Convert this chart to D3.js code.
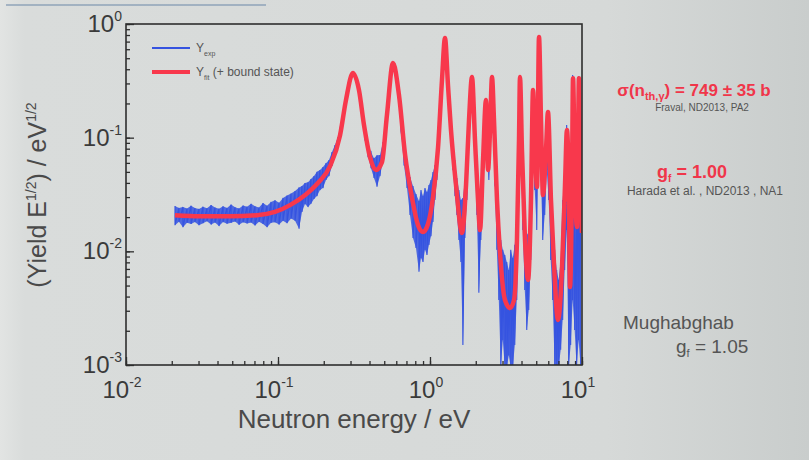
<!DOCTYPE html>
<html>
<head>
<meta charset="utf-8">
<script src="https://cdn.jsdelivr.net/npm/d3@7"></script>
<style>
  body { margin: 0; background: #d7dad9; }
  svg { display: block; font-family: 'Liberation Sans', Arial, sans-serif; }
</style>
</head>
<body>
<script>
// decades on both axes
const xMajor = [0.01, 0.1, 1, 10]
const xExp = ['-2', '-1', '0', '1']
const yMajor = [0.001, 0.01, 0.1, 1]
const yExp = ['-3', '-2', '-1', '0']

// fitted yield (red)
const fitE = [0.0210, 0.0307, 0.0483, 0.0728, 0.0955, 0.120, 0.151, 0.183, 0.220, 0.256,
  0.280, 0.311, 0.341, 0.368, 0.403, 0.441, 0.483, 0.521, 0.571, 0.625,
  0.686, 0.762, 0.834, 0.900, 0.970, 1.047, 1.129, 1.199, 1.255, 1.313,
  1.374, 1.483, 1.624, 1.726, 1.806, 1.889, 1.977, 2.070, 2.133, 2.233,
  2.335, 2.409, 2.483, 2.558, 2.636, 2.759, 2.889, 3.114, 3.359, 3.571,
  3.734, 3.851, 3.908, 4.027, 4.217, 4.416, 4.617, 4.764, 4.910, 5.059,
  5.214, 5.373, 5.537, 5.795, 5.973, 6.25, 6.546, 6.95, 7.38, 7.73,
  7.96, 8.21, 8.34, 8.59, 8.73, 8.99, 9.27, 9.41, 9.55, 9.70, 10.0]
const fitY = [0.0208, 0.0204, 0.0204, 0.0208, 0.0222, 0.0255, 0.0313, 0.0399, 0.0562, 0.105,
  0.214, 0.370, 0.262, 0.129, 0.0674, 0.0519, 0.0609, 0.158, 0.453, 0.237,
  0.0703, 0.0294, 0.0170, 0.0148, 0.0174, 0.0301, 0.0811, 0.321, 0.752, 0.290,
  0.117, 0.0383, 0.0145, 0.0383, 0.143, 0.341, 0.0953, 0.0282, 0.0154, 0.0635,
  0.214, 0.0519, 0.117, 0.341, 0.143, 0.0282, 0.00966, 0.00373, 0.00317, 0.00373,
  0.0126, 0.0953, 0.341, 0.0778, 0.0126, 0.00560, 0.0282, 0.262, 0.0778, 0.0368,
  0.767, 0.143, 0.0313, 0.0778, 0.168, 0.0282, 0.00759, 0.00249, 0.00686, 0.0383,
  0.117, 0.0282, 0.00485, 0.0383, 0.334, 0.0383, 0.0164, 0.0778, 0.334, 0.0778, 0.0145]

// measured yield (blue): upper / lower edge of the noisy trace per energy channel
const expE = [0.0210, 0.0223, 0.0237, 0.0252, 0.0268, 0.0284, 0.0302, 0.0321, 0.0341, 0.0363,
  0.0385, 0.0409, 0.0435, 0.0462, 0.0491, 0.0522, 0.0554, 0.0589, 0.0626, 0.0665,
  0.0706, 0.0750, 0.0797, 0.0847, 0.0900, 0.0956, 0.1016, 0.1079, 0.1147, 0.1219,
  0.1295, 0.1376,
  0.1438, 0.1505, 0.1575, 0.1648, 0.1725, 0.1805, 0.1889, 0.1977, 0.2069, 0.2165,
  0.2266, 0.2371, 0.2481, 0.2597, 0.2717, 0.2844, 0.2976, 0.3114, 0.3259, 0.3411,
  0.3569, 0.3735, 0.3909, 0.4091, 0.4281, 0.4480, 0.4688, 0.4906, 0.5134, 0.5373,
  0.5623, 0.5884, 0.6158, 0.6444, 0.6744, 0.7057, 0.7385, 0.7729, 0.8088, 0.8464,
  0.8725, 0.8993, 0.9269, 0.9553, 0.9846, 1.015, 1.046, 1.078, 1.111, 1.145,
  1.180, 1.217, 1.254, 1.293, 1.332, 1.373, 1.415, 1.459, 1.503, 1.550,
  1.597, 1.646, 1.697, 1.749, 1.802, 1.858, 1.915, 1.973, 2.034, 2.096,
  2.161, 2.227, 2.295, 2.366, 2.439, 2.513, 2.591, 2.670, 2.752, 2.836,
  2.923, 3.013, 3.106, 3.201, 3.299, 3.400, 3.505, 3.612, 3.723, 3.838,
  3.955, 4.077, 4.202, 4.331, 4.464, 4.601, 4.742, 4.887, 5.037, 5.192,
  5.351, 5.516, 5.685, 5.859, 6.039, 6.225, 6.416, 6.613, 6.816, 7.025,
  7.240, 7.463, 7.692, 7.928, 8.171, 8.422, 8.680, 8.947, 9.221, 9.504, 9.796]
const expHi = [0.0250, 0.0241, 0.0246, 0.0238, 0.0252, 0.0240, 0.0236, 0.0247, 0.0239, 0.0255,
  0.0243, 0.0237, 0.0249, 0.0241, 0.0258, 0.0244, 0.0238, 0.0253, 0.0247, 0.0262,
  0.0249, 0.0243, 0.0266, 0.0252, 0.0272, 0.0281, 0.0268, 0.0295, 0.0310, 0.0322,
  0.0339, 0.0365,
  0.0376, 0.0399, 0.0405, 0.0433, 0.0459, 0.0502, 0.0519, 0.0552, 0.0597, 0.0635,
  0.0747, 0.0861, 0.101, 0.137, 0.186, 0.262, 0.334, 0.385, 0.349, 0.278,
  0.190, 0.117, 0.0878, 0.0747, 0.0660, 0.0700, 0.0703, 0.0917, 0.158, 0.309,
  0.450, 0.393, 0.278, 0.143, 0.0808, 0.0563, 0.0450, 0.0376, 0.0319, 0.0277,
  0.0346, 0.0306, 0.0360, 0.0333, 0.0383, 0.0424, 0.0498, 0.0574, 0.0778, 0.129,
  0.252, 0.501, 0.783, 0.426, 0.237, 0.143, 0.0808, 0.0635, 0.0441, 0.0346,
  0.0283, 0.0294, 0.0424, 0.0778, 0.158, 0.284, 0.252, 0.112, 0.0519, 0.0283,
  0.0346, 0.0778, 0.158, 0.112, 0.0952, 0.237, 0.262, 0.0952, 0.0346, 0.0181,
  0.0126, 0.0103, 0.00928, 0.00806, 0.00685, 0.0103, 0.00874, 0.0114, 0.0189, 0.105,
  0.194, 0.0519, 0.0189, 0.0139, 0.0148, 0.0383, 0.273, 0.0952, 0.0441, 0.783,
  0.175, 0.0424, 0.0703, 0.152, 0.117, 0.0399, 0.0189, 0.0103, 0.00685, 0.00559,
  0.00839, 0.0283, 0.0498, 0.129, 0.0424, 0.0283, 0.355, 0.0635, 0.0283, 0.349, 0.0952]
const expLo = [0.0170, 0.0182, 0.0163, 0.0178, 0.0174, 0.0181, 0.0170, 0.0177, 0.0184, 0.0172,
  0.0179, 0.0167, 0.0181, 0.0175, 0.0178, 0.0183, 0.0171, 0.0180, 0.0176, 0.0179,
  0.0169, 0.0182, 0.0174, 0.0163, 0.0178, 0.0180, 0.0172, 0.0186, 0.0177, 0.0194,
  0.0186, 0.0158,
  0.0222, 0.0261, 0.0245, 0.0262, 0.0289, 0.0306, 0.0346, 0.0360, 0.0424, 0.0459,
  0.0563, 0.0690, 0.0845, 0.117, 0.165, 0.234, 0.303, 0.349, 0.315, 0.246,
  0.162, 0.0952, 0.0690, 0.0538, 0.0441, 0.0370, 0.0459, 0.0635, 0.126, 0.267,
  0.410, 0.360, 0.242, 0.114, 0.0574, 0.0360, 0.0209, 0.0131, 0.0107, 0.00660,
  0.00874, 0.00806, 0.0103, 0.00928, 0.0114, 0.0136, 0.0181, 0.0283, 0.0424, 0.0778,
  0.175, 0.393, 0.613, 0.321, 0.168, 0.0861, 0.0519, 0.0306, 0.0209, 0.0126,
  0.00806, 0.00150, 0.0131, 0.0283, 0.0952, 0.214, 0.175, 0.0574, 0.0209, 0.00432,
  0.0126, 0.0346, 0.0952, 0.0635, 0.0424, 0.129, 0.143, 0.0383, 0.0103, 0.00373,
  0.00095, 0.00166, 0.00095, 0.00095, 0.00122, 0.00095, 0.00095, 0.00150, 0.00373, 0.0424,
  0.0778, 0.0154, 0.00457, 0.00203, 0.00305, 0.00839, 0.0952, 0.0346, 0.0154, 0.321,
  0.0519, 0.0126, 0.0209, 0.0519, 0.0283, 0.00839, 0.00373, 0.00095, 0.00095, 0.00095,
  0.00136, 0.00249, 0.00685, 0.0154, 0.00095, 0.00150, 0.00373, 0.00203, 0.00095, 0.00166, 0.00095]

const W = 809, H = 460
const plot = { left: 126, right: 582, top: 24, bottom: 365 }
const blue = '#3553e0', red = '#f8384c', ink = '#2e2e2e', grey = '#4a4a4a'

const svg = d3.select('body')
  .append('svg')
  .attr('width', W)
  .attr('height', H)

// slide background
const defs = svg.append('defs')
const bg = defs.append('linearGradient').attr('id', 'bg')
bg.append('stop').attr('offset', '0%').attr('stop-color', '#e2e4e3')
bg.append('stop').attr('offset', '3%').attr('stop-color', '#d9dcdb')
bg.append('stop').attr('offset', '75%').attr('stop-color', '#d6d9d8')
bg.append('stop').attr('offset', '100%').attr('stop-color', '#c9cdcc')
svg.append('rect').attr('width', W).attr('height', H).attr('fill', 'url(#bg)')
svg.append('rect').attr('x', 6).attr('y', 4).attr('width', 260).attr('height', 2)
  .attr('fill', '#8aa0b6').attr('opacity', 0.7)

defs.append('clipPath').attr('id', 'clip')
  .append('rect')
  .attr('x', plot.left).attr('y', plot.top)
  .attr('width', plot.right - plot.left).attr('height', plot.bottom - plot.top)

const x = d3.scaleLog().domain([0.01, 10]).range([plot.left, plot.right])
const y = d3.scaleLog().domain([0.001, 1]).range([plot.bottom, plot.top])

// measured data
const exp = expE.map((e, i) => ({ e, hi: expHi[i], lo: expLo[i] }))
const traces = svg.append('g').attr('clip-path', 'url(#clip)')

traces.append('path')
  .datum(exp)
  .attr('d', d3.area().x(d => x(d.e)).y0(d => y(d.lo)).y1(d => y(d.hi)))
  .attr('fill', blue)
  .attr('opacity', 0.85)

const zig = []
exp.forEach(d => { zig.push([d.e, d.hi]); zig.push([d.e, d.lo]) })
traces.append('path')
  .datum(zig)
  .attr('d', d3.line().x(d => x(d[0])).y(d => y(d[1])))
  .attr('fill', 'none')
  .attr('stroke', blue)
  .attr('stroke-width', 1.1)

// fit
traces.append('path')
  .datum(fitE.map((e, i) => [e, fitY[i]]))
  .attr('d', d3.line().x(d => x(d[0])).y(d => y(d[1])).curve(d3.curveMonotoneX))
  .attr('fill', 'none')
  .attr('stroke', red)
  .attr('stroke-width', 4.5)
  .attr('stroke-linejoin', 'round')

// axes: minor + major ticks pointing inward
svg.append('g')
  .attr('transform', `translate(0,${plot.bottom})`)
  .call(d3.axisBottom(x).tickValues(x.ticks()).tickSize(-4).tickFormat(''))
  .call(g => g.select('.domain').remove())
  .call(g => g.selectAll('line').attr('stroke', ink).attr('stroke-width', 1.3))
svg.append('g')
  .attr('transform', `translate(0,${plot.bottom})`)
  .call(d3.axisBottom(x).tickValues(xMajor).tickSize(-8).tickFormat(''))
  .call(g => g.select('.domain').remove())
  .call(g => g.selectAll('line').attr('stroke', ink).attr('stroke-width', 1.3))
svg.append('g')
  .attr('transform', `translate(${plot.left},0)`)
  .call(d3.axisLeft(y).tickValues(y.ticks()).tickSize(-4).tickFormat(''))
  .call(g => g.select('.domain').remove())
  .call(g => g.selectAll('line').attr('stroke', ink).attr('stroke-width', 1.3))
svg.append('g')
  .attr('transform', `translate(${plot.left},0)`)
  .call(d3.axisLeft(y).tickValues(yMajor).tickSize(-8).tickFormat(''))
  .call(g => g.select('.domain').remove())
  .call(g => g.selectAll('line').attr('stroke', ink).attr('stroke-width', 1.3))

svg.append('rect')
  .attr('x', plot.left).attr('y', plot.top)
  .attr('width', plot.right - plot.left).attr('height', plot.bottom - plot.top)
  .attr('fill', 'none')
  .attr('stroke', ink)
  .attr('stroke-width', 1.6)

// tick labels 10^n
const xl = svg.append('g').selectAll('text')
  .data(xMajor)
  .enter()
  .append('text')
  .attr('x', d => x(d) - 4)
  .attr('y', plot.bottom + 33)
  .attr('text-anchor', 'middle')
  .attr('fill', '#3a3a3a')
  .style('font-size', '24px')
xl.append('tspan').text('10')
xl.append('tspan').attr('dy', -11).style('font-size', '14px').text((d, i) => xExp[i])

const yl = svg.append('g').selectAll('text')
  .data(yMajor)
  .enter()
  .append('text')
  .attr('x', plot.left - 4)
  .attr('y', d => y(d) + 8)
  .attr('text-anchor', 'end')
  .attr('fill', '#3a3a3a')
  .style('font-size', '24px')
yl.append('tspan').text('10')
yl.append('tspan').attr('dy', -11).style('font-size', '14px').text((d, i) => yExp[i])

// axis titles
svg.append('text')
  .attr('x', (plot.left + plot.right) / 2)
  .attr('y', 428)
  .attr('text-anchor', 'middle')
  .attr('fill', grey)
  .style('font-size', '26px')
  .text('Neutron energy / eV')

const yt = svg.append('text')
  .attr('transform', 'translate(46,195) rotate(-90)')
  .attr('text-anchor', 'middle')
  .attr('fill', grey)
  .style('font-size', '25px')
yt.append('tspan').text('(Yield  E')
yt.append('tspan').attr('dy', -10).style('font-size', '14px').text('1/2')
yt.append('tspan').attr('dy', 10).text(') / eV')
yt.append('tspan').attr('dy', -10).style('font-size', '14px').text('1/2')

// legend
const legend = svg.append('g').attr('transform', 'translate(152,0)')
legend.append('line').attr('x1', 0).attr('x2', 38).attr('y1', 48).attr('y2', 48)
  .attr('stroke', blue).attr('stroke-width', 2)
legend.append('line').attr('x1', 0).attr('x2', 38).attr('y1', 72).attr('y2', 72)
  .attr('stroke', red).attr('stroke-width', 4)
const l1 = legend.append('text').attr('x', 44).attr('y', 52).attr('fill', '#555').style('font-size', '12px')
l1.append('tspan').text('Y')
l1.append('tspan').attr('dy', 4).style('font-size', '7px').text('exp')
const l2 = legend.append('text').attr('x', 44).attr('y', 76).attr('fill', '#555').style('font-size', '12px')
l2.append('tspan').text('Y')
l2.append('tspan').attr('dy', 4).style('font-size', '7px').text('fit')
l2.append('tspan').attr('dy', -4).text(' (+ bound state)')

// annotations
const s = svg.append('text').attr('x', 694).attr('y', 96).attr('text-anchor', 'middle')
  .attr('fill', '#f0364a').style('font-size', '17px').style('font-weight', 'bold')
s.append('tspan').text('σ(n')
s.append('tspan').attr('dy', 4).style('font-size', '11px').text('th')
s.append('tspan').attr('dy', 0).style('font-size', '11px').text(',γ')
s.append('tspan').attr('dy', -4).text(') = 749 ± 35 b')
svg.append('text').attr('x', 702).attr('y', 111).attr('text-anchor', 'middle')
  .attr('fill', '#555').style('font-size', '10px').text('Fraval, ND2013, PA2')

const g1 = svg.append('text').attr('x', 692).attr('y', 178).attr('text-anchor', 'middle')
  .attr('fill', '#f0364a').style('font-size', '18px').style('font-weight', 'bold')
g1.append('tspan').text('g')
g1.append('tspan').attr('dy', 4).style('font-size', '10px').text('f')
g1.append('tspan').attr('dy', -4).text(' = 1.00')
svg.append('text').attr('x', 705).attr('y', 195).attr('text-anchor', 'middle')
  .attr('fill', '#555').style('font-size', '12px').text('Harada et al. , ND2013 , NA1')

svg.append('text').attr('x', 623).attr('y', 329)
  .attr('fill', '#555').style('font-size', '19px').text('Mughabghab')
const g2 = svg.append('text').attr('x', 676).attr('y', 353)
  .attr('fill', '#555').style('font-size', '19px')
g2.append('tspan').text('g')
g2.append('tspan').attr('dy', 4).style('font-size', '11px').text('f')
g2.append('tspan').attr('dy', -4).text(' = 1.05')
</script>
</body>
</html>
